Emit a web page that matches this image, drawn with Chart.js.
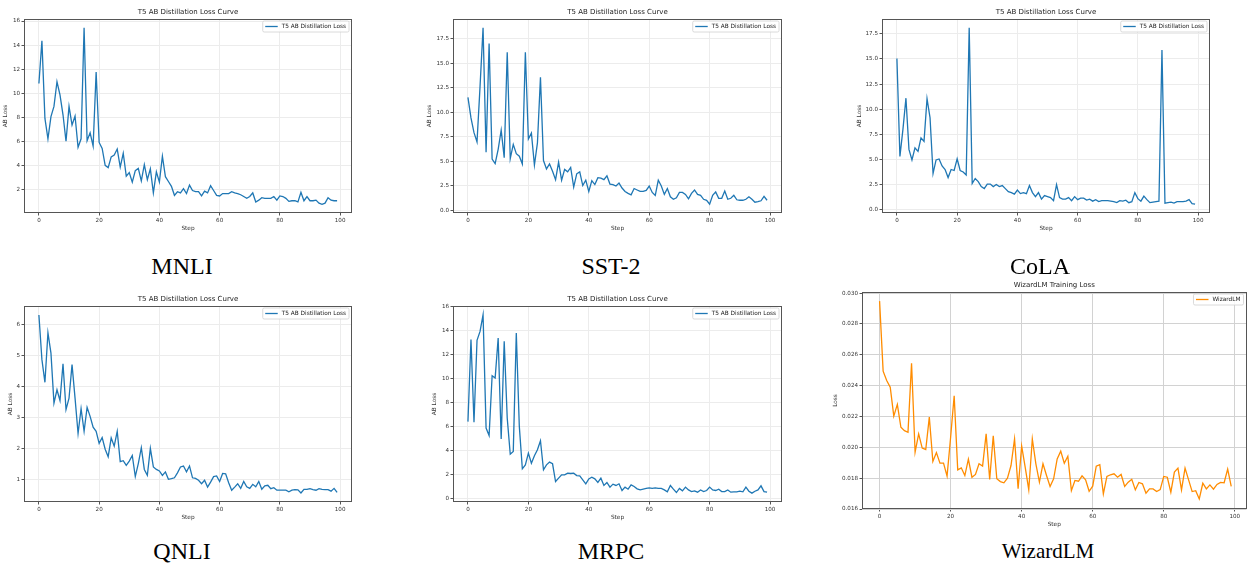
<!DOCTYPE html>
<html>
<head>
<meta charset="utf-8">
<script src="https://cdn.jsdelivr.net/npm/chart.js@4.4.1/dist/chart.umd.min.js"></script>
<style>
  body { margin: 0; background: #fff; width: 1247px; height: 565px; position: relative; overflow: hidden; }
  canvas { position: absolute; }
  .caption {
    position: absolute;
    font-family: "Liberation Serif", "DejaVu Serif", serif;
    font-size: 24px;
    color: #000;
    transform: translate(-50%, -50%);
    white-space: nowrap;
  }
</style>
</head>
<body>
<canvas id="c-mnli"></canvas>
<canvas id="c-sst2"></canvas>
<canvas id="c-cola"></canvas>
<canvas id="c-qnli"></canvas>
<canvas id="c-mrpc"></canvas>
<canvas id="c-wizard"></canvas>
<div class="caption" style="left:182px; top:266px">MNLI</div>
<div class="caption" style="left:611px; top:266px">SST-2</div>
<div class="caption" style="left:1040px; top:266px">CoLA</div>
<div class="caption" style="left:182px; top:551px">QNLI</div>
<div class="caption" style="left:611px; top:551px">MRPC</div>
<div class="caption" style="left:1048px; top:551px; font-size:21px">WizardLM</div>
<script>
// ---- data (one value per step, steps 0..99) ----
const stepTicks = [0, 20, 40, 60, 80, 100];

const mnliLoss = [
  10.8, 14.35, 7.9, 6.2, 8.05, 8.9, 10.95, 9.85, 8.2, 6.0,
  8.9, 7.35, 8.1, 5.5, 6.2, 15.45, 6.05, 6.7, 5.6, 11.75,
  5.9, 5.4, 4.0, 3.8, 4.7, 4.85, 5.35, 3.85, 5.0, 3.1,
  3.4, 2.6, 3.55, 3.75, 2.7, 4.05, 2.8, 3.7, 1.7, 3.45,
  2.6, 4.75, 3.05, 2.65, 2.25, 1.5, 1.8, 1.7, 2.05, 1.65,
  2.35, 1.9, 1.8, 1.8, 1.45, 1.85, 1.7, 2.3, 1.9, 1.5,
  1.45, 1.65, 1.65, 1.65, 1.8, 1.7, 1.65, 1.55, 1.4, 1.25,
  1.4, 1.7, 0.95, 1.1, 1.3, 1.25, 1.25, 1.25, 1.4, 1.1,
  1.45, 1.4, 1.25, 1.0, 1.05, 1.05, 0.95, 1.75, 1.05, 1.4,
  1.05, 1.05, 1.1, 0.85, 0.75, 0.85, 1.3, 1.1, 1.05, 1.05
];
const mnliTicks = [2, 4, 6, 8, 10, 12, 14, 16];

const sst2Loss = [
  11.5, 9.4, 7.9, 6.95, 12.6, 18.6, 5.9, 17.0, 5.2, 4.75,
  6.2, 8.15, 5.35, 16.1, 5.25, 6.7, 5.75, 5.5, 4.7, 16.1,
  7.25, 7.85, 4.6, 6.85, 13.55, 5.05, 4.2, 4.7, 3.95, 3.1,
  4.9, 3.05, 4.15, 3.9, 4.35, 2.35, 3.7, 3.9, 2.5, 3.05,
  1.9, 3.0, 2.6, 3.3, 3.25, 3.1, 3.5, 2.65, 2.6, 2.45,
  2.75, 2.25, 1.9, 1.7, 1.55, 2.2, 2.05, 1.9, 1.9, 2.0,
  2.45, 1.8, 1.5, 3.05, 2.45, 1.6, 2.2, 1.35, 1.1, 1.25,
  1.8, 1.8, 1.6, 1.15, 1.7, 2.05, 1.6, 1.5, 1.1, 1.0,
  0.6, 1.5, 1.85, 1.2, 1.2, 1.95, 1.1, 1.2, 1.5, 1.05,
  1.0, 1.0, 1.1, 1.35, 1.1, 0.8, 0.85, 0.95, 1.4, 1.0
];
const sst2Ticks = [0, 2.5, 5, 7.5, 10, 12.5, 15, 17.5];

const colaLoss = [
  15.05, 5.3, 8.0, 11.1, 6.0, 4.95, 6.15, 5.8, 7.15, 6.8,
  11.05, 9.15, 3.6, 4.95, 5.05, 4.35, 4.0, 3.2, 4.0, 3.9,
  5.05, 3.9, 3.75, 3.45, 18.1, 2.6, 3.1, 2.8, 2.3, 2.1,
  2.55, 2.55, 2.3, 2.5, 2.3, 2.4, 2.1, 1.8, 1.7, 1.55,
  1.95, 1.6, 1.7, 1.6, 2.4, 1.7, 1.3, 1.7, 1.05, 1.4,
  1.3, 1.2, 0.9, 2.5, 1.2, 1.05, 1.05, 1.2, 0.9, 1.3,
  1.0, 1.15, 1.15, 0.95, 1.05, 0.85, 1.0, 0.8, 0.9, 0.9,
  0.9, 0.85, 0.8, 0.7, 0.9, 0.85, 0.95, 0.7, 0.8, 1.7,
  1.1, 0.85, 1.35, 1.0, 0.7, 0.75, 0.8, 0.85, 15.9, 0.65,
  0.7, 0.75, 0.65, 0.8, 0.8, 0.8, 0.85, 1.0, 0.6, 0.55
];
const colaTicks = [0, 2.5, 5, 7.5, 10, 12.5, 15, 17.5];

const qnliLoss = [
  6.3, 4.86, 4.13, 5.73, 5.07, 3.46, 3.89, 3.54, 4.73, 3.25,
  3.62, 4.7, 3.62, 2.48, 3.28, 2.55, 3.32, 3.03, 2.68, 2.55,
  2.16, 2.35, 1.97, 1.73, 2.34, 2.07, 2.55, 1.57, 1.6, 1.45,
  1.59, 1.77, 1.09, 1.51, 2.02, 1.32, 1.13, 2.0, 1.4, 1.32,
  1.27, 1.13, 1.24, 1.0, 1.02, 1.05, 1.21, 1.4, 1.43, 1.24,
  1.43, 1.05, 1.03, 0.97, 0.86, 0.97, 0.75, 0.91, 1.09, 1.11,
  0.93, 1.19, 1.18, 0.89, 0.65, 0.75, 0.86, 0.71, 0.93, 0.76,
  0.71, 0.84, 0.76, 0.93, 0.68, 0.79, 0.81, 0.7, 0.73, 0.65,
  0.65, 0.65, 0.65, 0.6, 0.65, 0.67, 0.66, 0.56, 0.68, 0.68,
  0.7, 0.67, 0.65, 0.7, 0.68, 0.67, 0.67, 0.62, 0.71, 0.58
];
const qnliTicks = [1, 2, 3, 4, 5, 6];

const mrpcLoss = [
  6.42, 13.27, 6.36, 13.2, 13.95, 15.33, 5.88, 5.26, 10.25, 10.06,
  13.4, 4.96, 13.12, 6.71, 3.7, 3.93, 13.82, 6.02, 2.48, 2.81,
  3.79, 2.95, 3.57, 4.07, 4.82, 2.4, 2.81, 3.04, 2.9, 1.42,
  1.7, 1.98, 1.98, 2.12, 2.09, 2.12, 1.92, 1.89, 1.56, 1.23,
  1.64, 1.78, 1.64, 1.34, 1.7, 1.09, 1.34, 0.95, 1.2, 1.09,
  1.23, 0.67, 0.95, 0.78, 1.14, 1.0, 0.81, 0.72, 0.78, 0.84,
  0.89, 0.84, 0.89, 0.84, 0.84, 0.72, 0.56, 1.09, 0.78, 0.5,
  0.84, 0.64, 0.95, 0.72, 0.58, 0.64, 0.53, 0.72, 0.58, 0.67,
  0.95, 0.72, 0.67, 0.78, 0.58, 0.58, 0.72, 0.53, 0.56, 0.56,
  0.61, 0.56, 0.95, 0.61, 0.45, 0.61, 0.72, 1.06, 0.58, 0.53
];
const mrpcTicks = [0, 2, 4, 6, 8, 10, 12, 14, 16];

const wizardLoss = [
  0.02948, 0.02494, 0.02433, 0.0239, 0.02202, 0.02278, 0.0213, 0.02108, 0.02097, 0.02545,
  0.01968, 0.02087, 0.01995, 0.01986, 0.02196, 0.01908, 0.01966, 0.01897, 0.01897, 0.01813,
  0.02065, 0.02334, 0.01854, 0.01867, 0.01817, 0.01923, 0.01806, 0.01824, 0.01893, 0.01878,
  0.02087, 0.01791, 0.02074, 0.01796, 0.01778, 0.0177, 0.018, 0.01882, 0.02055, 0.01731,
  0.02008, 0.0187, 0.01725, 0.02055, 0.01893, 0.01775, 0.01893, 0.01817, 0.01746, 0.01796,
  0.01925, 0.01975, 0.01897, 0.01942, 0.01719, 0.01785, 0.0178, 0.01815, 0.01789, 0.01715,
  0.01748, 0.01878, 0.01887, 0.01698, 0.01811, 0.01822, 0.01828, 0.01806, 0.01824, 0.01746,
  0.01774, 0.01793, 0.01724, 0.01772, 0.01763, 0.01702, 0.0173, 0.0173, 0.01713, 0.01726,
  0.01811, 0.01806, 0.01709, 0.01839, 0.01865, 0.01724, 0.01865, 0.01789, 0.01713, 0.01719,
  0.01665, 0.01767, 0.0173, 0.01756, 0.01728, 0.01759, 0.01772, 0.0177, 0.01859, 0.01746
];
const wizardTicks = [0.016, 0.018, 0.02, 0.022, 0.024, 0.026, 0.028, 0.03];

// ---- layout of the six panels ----
const distTitle = "T5 AB Distillation Loss Curve";
const distLabel = "T5 AB Distillation Loss";
const blue = "#1f77b4";
const orange = "#ff8c00";

const panels = [
  { id: "c-mnli", values: mnliLoss, yTicks: mnliTicks, yMin: 0.03, yMax: 16.17, dec: 0,
    title: distTitle, label: distLabel, yTitle: "AB Loss", color: blue, grid: "#ececec",
    left: 0, top: 4, width: 356, height: 231, yWidth: 24, padRight: 4, xMax: 103.95 },
  { id: "c-sst2", values: sst2Loss, yTicks: sst2Ticks, yMin: -0.3, yMax: 19.5, dec: 1,
    title: distTitle, label: distLabel, yTitle: "AB Loss", color: blue, grid: "#ececec",
    left: 424, top: 4, width: 362, height: 231, yWidth: 29, padRight: 4, xMax: 103.95 },
  { id: "c-cola", values: colaLoss, yTicks: colaTicks, yMin: -0.33, yMax: 18.98, dec: 1,
    title: distTitle, label: distLabel, yTitle: "AB Loss", color: blue, grid: "#ececec",
    left: 854, top: 4, width: 360, height: 231, yWidth: 28, padRight: 4, xMax: 103.95 },
  { id: "c-qnli", values: qnliLoss, yTicks: qnliTicks, yMin: 0.27, yMax: 6.59, dec: 0,
    title: distTitle, label: distLabel, yTitle: "AB Loss", color: blue, grid: "#ececec",
    left: 5, top: 291, width: 351, height: 233, yWidth: 19, padRight: 4, xMax: 103.95 },
  { id: "c-mrpc", values: mrpcLoss, yTicks: mrpcTicks, yMin: -0.29, yMax: 16.07, dec: 0,
    title: distTitle, label: distLabel, yTitle: "AB Loss", color: blue, grid: "#ececec",
    left: 429, top: 291, width: 357, height: 233, yWidth: 24, padRight: 4, xMax: 103.95 },
  { id: "c-wizard", values: wizardLoss, yTicks: wizardTicks, yMin: 0.016, yMax: 0.03007, dec: 3,
    title: "WizardLM Training Loss", label: "WizardLM", yTitle: "Loss", color: orange, grid: "#d2d2d2",
    left: 830, top: 277, width: 417, height: 254, yWidth: 32, padRight: 0.5, xMax: 103.3 }
];

Chart.defaults.font.family = '"DejaVu Sans", sans-serif';
Chart.defaults.color = "#333";

// box round the plot area, like matplotlib spines
const framePlugin = {
  id: "frame",
  afterDatasetsDraw(chart) {
    const a = chart.chartArea;
    const ctx = chart.ctx;
    ctx.save();
    ctx.strokeStyle = "#555";
    ctx.lineWidth = 1;
    ctx.strokeRect(Math.round(a.left) + 0.5, Math.round(a.top) + 0.5,
      Math.round(a.right - a.left) - 1, Math.round(a.bottom - a.top) - 1);
    ctx.restore();
  },
};

// legend drawn inside the plot, top right corner
const insideLegend = {
  id: "insideLegend",
  afterDraw(chart) {
    const a = chart.chartArea;
    const ctx = chart.ctx;
    const ds = chart.data.datasets[0];
    ctx.save();
    ctx.font = '5.8px "DejaVu Sans"';
    const tw = ctx.measureText(ds.label).width;
    const w = 2.5 + 12.5 + 4 + tw + 3;
    const h = 11;
    const x = a.right - 3 - w;
    const y = a.top + 2;
    ctx.fillStyle = "rgba(255,255,255,0.85)";
    ctx.strokeStyle = "#d0d0d0";
    ctx.lineWidth = 0.8;
    ctx.beginPath();
    ctx.roundRect(x, y, w, h, 1.5);
    ctx.fill();
    ctx.stroke();
    ctx.strokeStyle = ds.borderColor;
    ctx.lineWidth = 1.3;
    ctx.beginPath();
    ctx.moveTo(x + 2.5, y + h / 2);
    ctx.lineTo(x + 15, y + h / 2);
    ctx.stroke();
    ctx.fillStyle = "#222";
    ctx.textBaseline = "middle";
    ctx.fillText(ds.label, x + 19, y + h / 2 + 0.3);
    ctx.restore();
  },
};

function makeChart(p) {
  const canvas = document.getElementById(p.id);
  canvas.width = p.width;
  canvas.height = p.height;
  canvas.style.left = p.left + "px";
  canvas.style.top = p.top + "px";
  canvas.style.width = p.width + "px";
  canvas.style.height = p.height + "px";

  return new Chart(canvas, {
    type: "line",
    data: {
      datasets: [{
        label: p.label,
        data: p.values.map((v, i) => ({ x: i, y: v })),
        borderColor: p.color,
        backgroundColor: p.color,
        borderWidth: 1.3,
        pointRadius: 0,
        tension: 0,
        fill: false,
      }],
    },
    plugins: [framePlugin, insideLegend],
    options: {
      responsive: false,
      animation: false,
      devicePixelRatio: 1,
      layout: { padding: { left: 0, right: p.padRight, top: 0, bottom: 0 } },
      plugins: {
        legend: { display: false },
        tooltip: { enabled: false },
        title: {
          display: true,
          text: p.title,
          fullSize: false,
          color: "#222",
          font: { size: 7, weight: "normal", lineHeight: 1.2 },
          padding: { top: 4, bottom: 2.6 },
        },
      },
      scales: {
        x: {
          type: "linear",
          min: -4.95,
          max: p.xMax,
          afterFit: (s) => { s.height = 22; },
          afterBuildTicks: (s) => { s.ticks = stepTicks.map((v) => ({ value: v })); },
          ticks: { font: { size: 5.6 }, padding: 1.5, maxRotation: 0, color: "#333" },
          grid: { color: p.grid, lineWidth: 1, tickLength: 2.5, tickColor: "#555" },
          border: { display: false },
          title: { display: true, text: "Step", font: { size: 5.8 }, padding: { top: 0, bottom: 3.2 }, color: "#333" },
        },
        y: {
          min: p.yMin,
          max: p.yMax,
          afterFit: (s) => { s.width = p.yWidth; },
          afterBuildTicks: (s) => { s.ticks = p.yTicks.map((v) => ({ value: v })); },
          ticks: {
            font: { size: 5.6 },
            padding: 1.5,
            color: "#333",
            callback: (v) => Number(v).toFixed(p.dec),
          },
          grid: { color: p.grid, lineWidth: 1, tickLength: 2.5, tickColor: "#555" },
          border: { display: false },
          title: { display: true, text: p.yTitle, font: { size: 5.8 }, padding: { top: 2.5, bottom: 0 }, color: "#333" },
        },
      },
    },
  });
}

panels.forEach(makeChart);
</script>
</body>
</html>
